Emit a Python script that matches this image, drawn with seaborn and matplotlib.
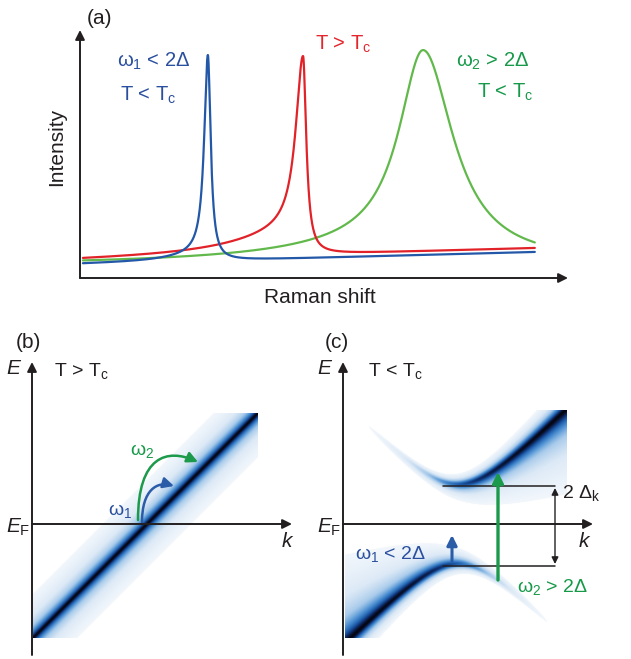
# Raman response of a superconductor - schematic figure

import numpy as np
import pandas as pd
import matplotlib
matplotlib.use("Agg")
import matplotlib.pyplot as plt
import seaborn as sns
from matplotlib.colors import LinearSegmentedColormap, LogNorm
from matplotlib.patches import FancyArrowPatch
from matplotlib.path import Path

# -----------------------------------
# DATA
# -----------------------------------

# panel (a): x in % of the axis length, y as fraction of the axis height
curve_names = ["w1_below_Tc", "above_Tc", "w2_below_Tc"]
curve_colors = ["#2358a8", "#e12229", "#62b94b"]
peak_center = [26.2, 45.7, 70.3]
peak_top = [0.899, 0.895, 0.919]
width_left = [0.9, 1.8, 6.0]
width_right = [0.7, 0.8, 7.5]
shoulder_height = [0.03, 0.10, 0.078]
shoulder_width = [8.0, 15.0, 30.0]
base_left = [0.056, 0.070, 0.053]
base_right = [0.105, 0.121, 0.060]
shift_range = [0.6, 93.2]

# panels (b), (c): axis units, 1 unit = 100 px
k_fermi = 1.15
gap = 0.40
width_normal = 0.03
width_sc_out = [0.012, 0.03]     # constant + slope in |E|, away from E_F
width_sc_in = [0.01, 0.06]       # constant + slope in |E|, towards E_F
weight_power = 1.3
halo = [0.06, 0.4]               # faint tail towards E_F: height, width per |E|
b_k_window = [0.01, 2.26]
b_e_window = [-1.14, 1.11]
c_k_window = [0.02, 2.24]
c_e_window = [-1.14, 1.14]
gap_line_k = [1.00, 2.12]
gap_arrow_k = 2.12
omega1_arrow = [1.09, -0.37, -0.11]   # k, E start, E end
omega2_arrow = [1.55, -0.56, 0.52]

# -----------------------------------
# STYLE
# -----------------------------------

sns.set_theme(style="white")
plt.rcParams["font.family"] = ["Liberation Sans", "DejaVu Sans"]
plt.rcParams["mathtext.fontset"] = "custom"
plt.rcParams["mathtext.rm"] = "Liberation Sans"
plt.rcParams["mathtext.it"] = "Liberation Sans:italic"
plt.rcParams["mathtext.bf"] = "Liberation Sans:bold"

INK = "#231f20"
BLUE_TXT = "#2a4f9e"
RED_TXT = "#e3262d"
GREEN_TXT = "#17994a"
W, H = 631, 659

fig = plt.figure(figsize=(W / 100, H / 100), dpi=100)


def px_rect(x0, y0, x1, y1):
    return [x0 / W, 1 - y1 / H, (x1 - x0) / W, (y1 - y0) / H]


def ftext(x, y, s, **kw):
    fig.text(x / W, 1 - y / H, s, **kw)


def axis_arrow(ax, start, tip, lw=1.4, ms=14, color=INK):
    ax.annotate("", xy=tip, xytext=start, annotation_clip=False,
                arrowprops=dict(arrowstyle="-|>", lw=lw, color=color,
                                mutation_scale=ms, shrinkA=0, shrinkB=0))


SUB_C = r"$_\mathregular{c}$"

# -----------------------------------
# PANEL (a)
# -----------------------------------

x = np.linspace(shift_range[0], shift_range[1], 4000)
frames = []
for i, name in enumerate(curve_names):
    bg = base_left[i] + (base_right[i] - base_left[i]) * (x - x[0]) / (x[-1] - x[0])
    bg0 = np.interp(peak_center[i], x, bg)
    amp = peak_top[i] - bg0 - shoulder_height[i]
    d = x - peak_center[i]
    left = bg + amp / (1 + (d / width_left[i]) ** 2) \
        + shoulder_height[i] / (1 + (d / shoulder_width[i]) ** 2)
    right = bg + (amp + shoulder_height[i]) / (1 + (d / width_right[i]) ** 2)
    y = np.where(d < 0, left, right)
    frames.append(pd.DataFrame({"shift": x, "intensity": y, "curve": name}))
df = pd.concat(frames)

ax_a = fig.add_axes(px_rect(80, 30, 568, 278))
sns.lineplot(data=df, x="shift", y="intensity", hue="curve",
             hue_order=["w2_below_Tc", "above_Tc", "w1_below_Tc"],
             palette=dict(zip(curve_names, curve_colors)),
             estimator=None, sort=False, lw=1.6, legend=False, ax=ax_a)
ax_a.set_xlim(0, 100)
ax_a.set_ylim(0, 1)
ax_a.set_axis_off()
axis_arrow(ax_a, (0, 0), (0, 1))
axis_arrow(ax_a, (0, 0), (100, 0))

ftext(99, 18, "(a)", fontsize=15, ha="center", va="center", color=INK)
ftext(57, 147, "Intensity", fontsize=15, rotation=90, ha="center", va="center", color=INK)
ftext(320, 298, "Raman shift", fontsize=15, ha="center", va="center", color=INK)
ftext(117, 67, r"ω$_\mathregular{1}$ < 2Δ", fontsize=14.5, color=BLUE_TXT, va="baseline")
ftext(120, 101, "T < T" + SUB_C, fontsize=14.5, color=BLUE_TXT, va="baseline")
ftext(315, 50, "T > T" + SUB_C, fontsize=14.5, color=RED_TXT, va="baseline")
ftext(529, 67, r"ω$_\mathregular{2}$ > 2Δ", fontsize=14.5, color=GREEN_TXT,
      va="baseline", ha="right")
ftext(533, 98, "T < T" + SUB_C, fontsize=14.5, color=GREEN_TXT,
      va="baseline", ha="right")

# -----------------------------------
# SPECTRAL MAPS (b) and (c)
# -----------------------------------

band_cmap = LinearSegmentedColormap.from_list(
    "band", [(0.00, "#f2f7fc"), (0.25, "#dce9f6"), (0.45, "#a9cbeb"),
             (0.62, "#4f92d3"), (0.78, "#1d5cab"), (0.90, "#0e2a66"),
             (1.00, "#05050f")])
band_cmap.set_bad((1, 1, 1, 0))
band_cmap.set_under((1, 1, 1, 0))

# (b) normal state
kb = np.linspace(b_k_window[0], b_k_window[1], 700)
eb = np.linspace(b_e_window[0], b_e_window[1], 700)
KB, EB = np.meshgrid(kb, eb)
xi_b = KB - k_fermi
spec_b = 1 / (1 + ((EB - xi_b) / width_normal) ** 2)
spec_b[spec_b < 0.0045] = np.nan

ax_b = fig.add_axes(px_rect(32, 362, 292, 655))
ax_b.imshow(spec_b, extent=[*b_k_window, *b_e_window], origin="lower",
            cmap=band_cmap, norm=LogNorm(vmin=0.0045, vmax=1), aspect="auto",
            interpolation="bilinear")
ax_b.set_xlim(0, 2.60)
ax_b.set_ylim(-1.31, 1.62)
ax_b.set_axis_off()
axis_arrow(ax_b, (0, -1.31), (0, 1.62))
axis_arrow(ax_b, (0, 0), (2.60, 0))

# curved transition arrows
for pts, col in [([(1.06, 0.04), (1.06, 0.68), (1.35, 0.76), (1.66, 0.62)], "#1c9a4b"),
                 ([(1.10, 0.02), (1.10, 0.34), (1.25, 0.43), (1.42, 0.38)], "#2a5ca8")]:
    path = Path(pts, [Path.MOVETO, Path.CURVE4, Path.CURVE4, Path.CURVE4])
    ax_b.add_patch(FancyArrowPatch(path=path, arrowstyle="-|>", lw=1.8, color=col,
                                   mutation_scale=16))

ftext(28, 342, "(b)", fontsize=15, ha="center", va="center", color=INK)
ftext(14, 368, r"$E$", fontsize=15, ha="center", va="center", color=INK)
ftext(54, 376, "T > T" + SUB_C, fontsize=14, color=INK, va="baseline")
ftext(6, 533, r"$E_\mathregular{F}$", fontsize=15, color=INK, va="baseline")
ftext(288, 547, r"$k$", fontsize=15, ha="center", va="baseline", color=INK)
ftext(108, 515, r"ω$_\mathregular{1}$", fontsize=14, color=BLUE_TXT, va="baseline")
ftext(130, 455, r"ω$_\mathregular{2}$", fontsize=14, color=GREEN_TXT, va="baseline")

# (c) superconducting state
kc = np.linspace(c_k_window[0], c_k_window[1], 700)
ec = np.linspace(c_e_window[0], c_e_window[1], 700)
KC, EC = np.meshgrid(kc, ec)
xi_c = KC - k_fermi
e_qp = np.sqrt(xi_c ** 2 + gap ** 2)
u2 = (0.5 * (1 + xi_c / e_qp)) ** weight_power
v2 = (0.5 * (1 - xi_c / e_qp)) ** weight_power
g_out = width_sc_out[0] + width_sc_out[1] * e_qp
g_in = width_sc_in[0] + width_sc_in[1] * e_qp
g_halo = halo[1] * e_qp
d_up = EC - e_qp           # > 0 away from E_F
d_lo = EC + e_qp           # < 0 away from E_F
upper = u2 / (1 + (d_up / np.where(d_up > 0, g_out, g_in)) ** 2)
upper += np.where(d_up < 0, halo[0] * u2 ** 3 / (1 + (d_up / g_halo) ** 2), 0)
lower = v2 / (1 + (d_lo / np.where(d_lo < 0, g_out, g_in)) ** 2)
lower += np.where(d_lo > 0, halo[0] * v2 ** 3 / (1 + (d_lo / g_halo) ** 2), 0)
spec_c = upper + lower
spec_c[spec_c < 0.02] = np.nan

ax_c = fig.add_axes(px_rect(343, 362, 593, 655))
ax_c.imshow(spec_c, extent=[*c_k_window, *c_e_window], origin="lower",
            cmap=band_cmap, norm=LogNorm(vmin=0.02, vmax=1), aspect="auto",
            interpolation="bilinear")
ax_c.set_xlim(0, 2.50)
ax_c.set_ylim(-1.31, 1.62)
ax_c.set_axis_off()
axis_arrow(ax_c, (0, -1.31), (0, 1.62))
axis_arrow(ax_c, (0, 0), (2.50, 0))

for level in [gap - 0.02, -gap - 0.02]:
    ax_c.plot(gap_line_k, [level, level], color=INK, lw=1.1, clip_on=False)
ax_c.annotate("", xy=(gap_arrow_k, -gap), xytext=(gap_arrow_k, gap - 0.04),
              arrowprops=dict(arrowstyle="<|-|>", lw=1.0, color=INK,
                              mutation_scale=10, shrinkA=0, shrinkB=0))
ax_c.annotate("", xy=(omega1_arrow[0], omega1_arrow[2]),
              xytext=(omega1_arrow[0], omega1_arrow[1]),
              arrowprops=dict(arrowstyle="-|>", lw=2.2, color="#2a5ca8",
                              mutation_scale=15, shrinkA=0, shrinkB=0))
ax_c.annotate("", xy=(omega2_arrow[0], omega2_arrow[2]),
              xytext=(omega2_arrow[0], omega2_arrow[1]),
              arrowprops=dict(arrowstyle="-|>", lw=2.4, color="#1c9a4b",
                              mutation_scale=16, shrinkA=0, shrinkB=0))

ftext(337, 342, "(c)", fontsize=15, ha="center", va="center", color=INK)
ftext(325, 368, r"$E$", fontsize=15, ha="center", va="center", color=INK)
ftext(368, 376, "T < T" + SUB_C, fontsize=14, color=INK, va="baseline")
ftext(317, 533, r"$E_\mathregular{F}$", fontsize=15, color=INK, va="baseline")
ftext(585, 547, r"$k$", fontsize=15, ha="center", va="baseline", color=INK)
ftext(562, 498, r"2 Δ$_\mathregular{k}$", fontsize=14, color=INK, va="baseline")
ftext(355, 559, r"ω$_\mathregular{1}$ < 2Δ", fontsize=14, color=BLUE_TXT, va="baseline")
ftext(517, 592, r"ω$_\mathregular{2}$ > 2Δ", fontsize=14, color=GREEN_TXT, va="baseline")

# -----------------------------------
# SAVE
# -----------------------------------

fig.savefig("out.png", dpi=100)
